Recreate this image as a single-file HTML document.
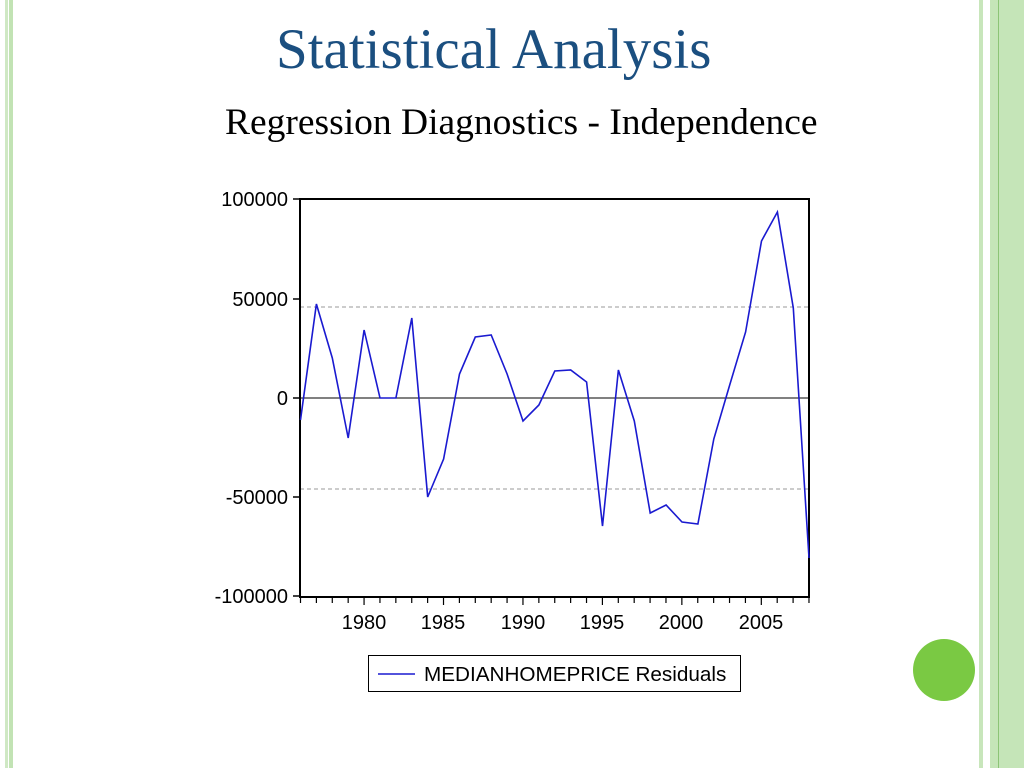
<!DOCTYPE html>
<html><head><meta charset="utf-8"><style>
body{margin:0;width:1024px;height:768px;background:#fff;overflow:hidden;position:relative;font-family:"Liberation Sans",sans-serif}
.t{position:absolute;font-family:"Liberation Serif",serif;white-space:nowrap}
</style></head><body>
<div style="position:absolute;left:5px;top:0;width:3px;height:768px;background:#cfe8c4"></div>
<div style="position:absolute;left:9px;top:0;width:4px;height:768px;background:#c2e3b4"></div>
<div style="position:absolute;left:979px;top:0;width:4px;height:768px;background:#c8e6bb"></div>
<div style="position:absolute;left:990px;top:0;width:34px;height:768px;background:#c5e5b8"></div>
<div style="position:absolute;left:998px;top:0;width:1px;height:768px;background:#8cc476"></div>
<div class="t" style="left:276px;top:17px;font-size:57px;color:#1b4f80">Statistical Analysis</div>
<div class="t" style="left:225px;top:101px;font-size:37.5px;color:#000">Regression Diagnostics - Independence</div>
<div style="position:absolute;left:913px;top:639px;width:62px;height:62px;border-radius:50%;background:#7ac943"></div>
<svg width="1024" height="768" style="position:absolute;left:0;top:0" font-family="Liberation Sans, sans-serif">
<g stroke="#999" stroke-dasharray="4,3" stroke-width="1"><line x1="300" y1="307" x2="809" y2="307"/><line x1="300" y1="489" x2="809" y2="489"/></g>
<line x1="300" y1="398" x2="809" y2="398" stroke="#000" stroke-width="1"/>
<rect x="300" y="199" width="509" height="398" fill="none" stroke="#000" stroke-width="2"/>
<g stroke="#000" stroke-width="1.5">
<line x1="293" y1="199" x2="300" y2="199"/><line x1="293" y1="299" x2="300" y2="299"/><line x1="293" y1="398" x2="300" y2="398"/><line x1="293" y1="497" x2="300" y2="497"/><line x1="293" y1="596" x2="300" y2="596"/>
</g>
<g stroke="#000" stroke-width="1.2" id="ticks"></g>
<g font-size="20" text-anchor="end" fill="#000">
<text x="288" y="206">100000</text><text x="288" y="306">50000</text><text x="288" y="405">0</text><text x="288" y="504">-50000</text><text x="288" y="603">-100000</text>
</g>
<g font-size="20" text-anchor="middle" fill="#000">
<text x="364" y="629">1980</text><text x="443" y="629">1985</text><text x="523" y="629">1990</text><text x="602" y="629">1995</text><text x="681" y="629">2000</text><text x="761" y="629">2005</text>
</g>
<polyline fill="none" stroke="#1a1ad0" stroke-width="1.6" points="300.5,420 316.4,304 332.3,358 348.2,438 364.1,330 380,398 395.9,398 411.8,318 427.7,497 443.6,459 459.5,374 475.3,337 491.2,335 507.1,374 523,421 538.9,405 554.8,371 570.7,370 586.6,382 602.5,526 618.4,370 634.3,421 650.2,513 666.1,505 682,522 697.9,524 713.8,439 729.7,385 745.6,332 761.5,241 777.4,212 793.3,308 809,558"/>
<rect x="368.5" y="655.5" width="372" height="36" fill="#fff" stroke="#000" stroke-width="1"/>
<line x1="378" y1="674" x2="415" y2="674" stroke="#1a1ad0" stroke-width="1.6"/>
<text x="424" y="681" font-size="20.7" fill="#000">MEDIANHOMEPRICE Residuals</text>
</svg>
<script>
var g=document.getElementById('ticks'),s='';
for(var y=1976;y<=2008;y++){var x=300.5+(y-1976)*15.89;s+='<line x1="'+x+'" y1="597" x2="'+x+'" y2="'+(y%5==0?605:603)+'"/>';}
g.innerHTML=s;
</script>
</body></html>
